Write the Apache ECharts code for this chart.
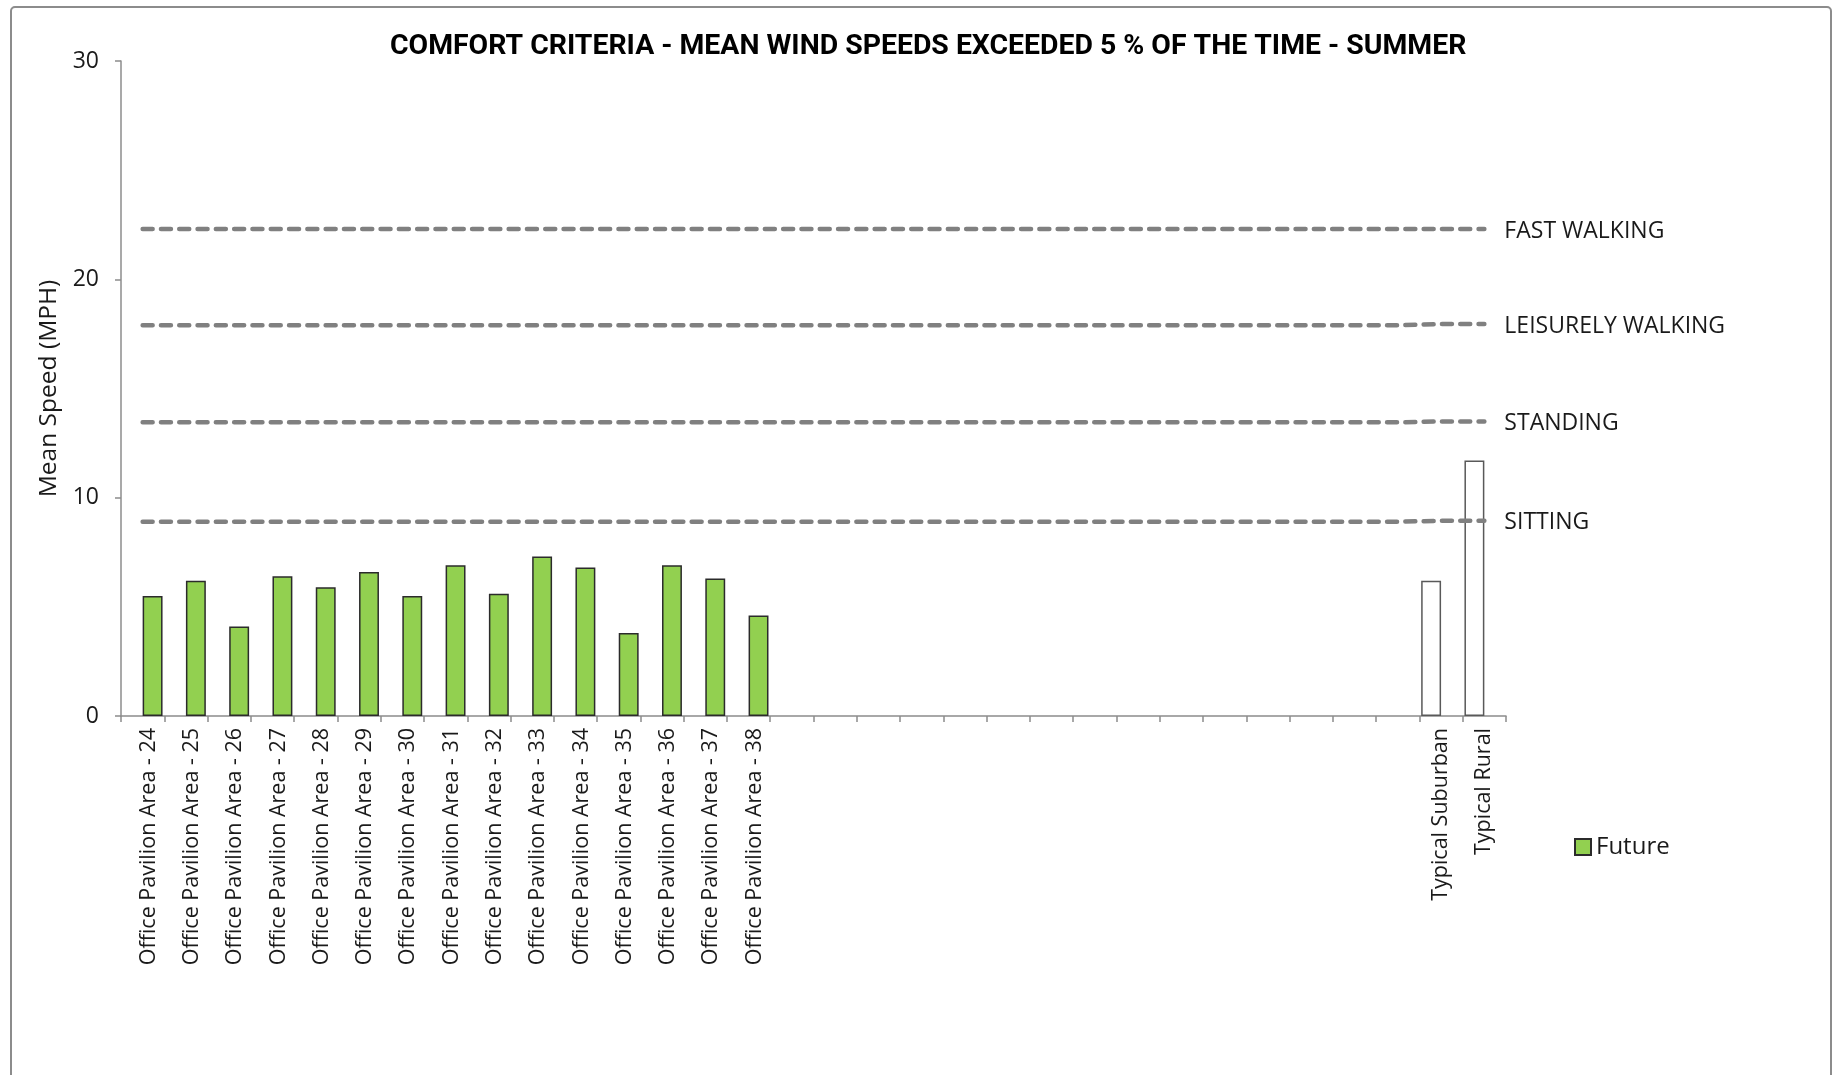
<!DOCTYPE html>
<html>
<head>
<meta charset="utf-8">
<script src="https://cdn.jsdelivr.net/npm/echarts@6/dist/echarts.min.js"></script>
<style>
  html, body { margin: 0; padding: 0; background: #fff; }
  #chart { width: 1837px; height: 1075px; }
</style>
</head>
<body>
<div id="chart"></div>
<script>
// categories: 15 measured areas, 15 unused slots, then the two reference sites
const categories = [
  "Office Pavilion Area - 24", "Office Pavilion Area - 25", "Office Pavilion Area - 26",
  "Office Pavilion Area - 27", "Office Pavilion Area - 28", "Office Pavilion Area - 29",
  "Office Pavilion Area - 30", "Office Pavilion Area - 31", "Office Pavilion Area - 32",
  "Office Pavilion Area - 33", "Office Pavilion Area - 34", "Office Pavilion Area - 35",
  "Office Pavilion Area - 36", "Office Pavilion Area - 37", "Office Pavilion Area - 38",
  "", "", "", "", "", "", "", "", "", "", "", "", "", "", "",
  "Typical Suburban", "Typical Rural"
];

const yTicks = [0, 10, 20, 30];

// Future (green bars)
const future = [
  5.5, 6.2, 4.1, 6.4, 5.9, 6.6, 5.5, 6.9, 5.6, 7.3, 6.8, 3.8, 6.9, 6.3, 4.6,
  null, null, null, null, null, null, null, null, null, null, null, null, null, null, null,
  null, null
];

// reference sites (white bars)
const typical = [
  null, null, null, null, null, null, null, null, null, null, null, null, null, null, null,
  null, null, null, null, null, null, null, null, null, null, null, null, null, null, null,
  6.2, 11.7
];

// comfort thresholds (dashed lines)
const fastWalking = [
  22.3, 22.3, 22.3, 22.3, 22.3, 22.3, 22.3, 22.3, 22.3, 22.3, 22.3, 22.3, 22.3, 22.3, 22.3, 22.3,
  22.3, 22.3, 22.3, 22.3, 22.3, 22.3, 22.3, 22.3, 22.3, 22.3, 22.3, 22.3, 22.3, 22.3, 22.3, 22.3
];
const leisurelyWalking = [
  17.9, 17.9, 17.9, 17.9, 17.9, 17.9, 17.9, 17.9, 17.9, 17.9, 17.9, 17.9, 17.9, 17.9, 17.9, 17.9,
  17.9, 17.9, 17.9, 17.9, 17.9, 17.9, 17.9, 17.9, 17.9, 17.9, 17.9, 17.9, 17.9, 17.9, 17.95, 17.95
];
const standing = [
  13.45, 13.45, 13.45, 13.45, 13.45, 13.45, 13.45, 13.45, 13.45, 13.45, 13.45, 13.45, 13.45, 13.45, 13.45, 13.45,
  13.45, 13.45, 13.45, 13.45, 13.45, 13.45, 13.45, 13.45, 13.45, 13.45, 13.45, 13.45, 13.45, 13.45, 13.49, 13.49
];
const sitting = [
  8.9, 8.9, 8.9, 8.9, 8.9, 8.9, 8.9, 8.9, 8.9, 8.9, 8.9, 8.9, 8.9, 8.9, 8.9, 8.9,
  8.9, 8.9, 8.9, 8.9, 8.9, 8.9, 8.9, 8.9, 8.9, 8.9, 8.9, 8.9, 8.9, 8.9, 8.94, 8.94
];

const textFont = "'Open Sans', 'DejaVu Sans', sans-serif";

// the two reference-site labels sit centred on their ticks
const axisData = categories.map(function (c) {
  if (c.indexOf("Typical") === 0) {
    return { value: c, textStyle: { verticalAlign: "middle", lineHeight: 24 } };
  }
  return c;
});

function thresholdLine(name, data) {
  return {
    name: name,
    type: "line",
    data: data,
    symbol: "none",
    silent: true,
    z: 3,
    lineStyle: {
      color: "#808080",
      width: 4.5,
      type: [10, 8.3],
      cap: "round",
    },
    endLabel: {
      show: true,
      formatter: "{a}",
      distance: 20,
      offset: [0, 2],
      color: "#1a1a1a",
      fontSize: 23,
      fontFamily: textFont,
    },
  };
}

let myChart = echarts.init(document.getElementById("chart"), null, { renderer: "canvas" });

let option = {
  animation: false,
  backgroundColor: "#fff",
  graphic: [
    {
      type: "rect",
      shape: { x: 11, y: 7, width: 1820, height: 1100, r: 4 },
      style: { fill: "none", stroke: "#8c8c8c", lineWidth: 2 },
      silent: true,
    },
  ],
  title: {
    text: "COMFORT CRITERIA - MEAN WIND SPEEDS EXCEEDED 5 % OF THE TIME - SUMMER",
    left: 385,
    top: 28,
    textStyle: {
      fontFamily: "Roboto, 'Open Sans', sans-serif",
      fontWeight: "bold",
      fontSize: 28.4,
      color: "#000",
    },
  },
  legend: {
    data: ["Future"],
    left: 1569,
    top: 830,
    itemWidth: 16,
    itemHeight: 16,
    itemGap: 8,
    icon: "rect",
    selectedMode: false,
    textStyle: {
      fontFamily: textFont,
      fontSize: 24,
      color: "#1a1a1a",
    },
  },
  grid: {
    left: 121,
    right: 331,
    top: 61,
    bottom: 359,
    containLabel: false,
  },
  xAxis: {
    type: "category",
    data: axisData,
    axisLine: { lineStyle: { color: "#8c8c8c", width: 1.5 } },
    axisTick: {
      show: true,
      interval: 0,
      length: 6,
      alignWithLabel: false,
      lineStyle: { color: "#8c8c8c", width: 1.5 },
    },
    axisLabel: {
      interval: 0,
      rotate: 90,
      margin: 12,
      verticalAlign: "top",
      lineHeight: 12,
      fontFamily: textFont,
      fontSize: 21.5,
      color: "#1a1a1a",
    },
  },
  yAxis: {
    type: "value",
    min: yTicks[0],
    max: yTicks[yTicks.length - 1],
    interval: 10,
    name: "Mean Speed (MPH)",
    nameLocation: "middle",
    nameGap: 56,
    nameTextStyle: {
      fontFamily: textFont,
      fontSize: 24.5,
      color: "#1a1a1a",
    },
    axisLine: { show: true, lineStyle: { color: "#8c8c8c", width: 1.5 } },
    axisTick: { show: true, length: 6, lineStyle: { color: "#8c8c8c", width: 1.5 } },
    splitLine: { show: false },
    axisLabel: {
      margin: 22,
      fontFamily: textFont,
      fontSize: 23,
      color: "#1a1a1a",
    },
  },
  series: [
    {
      name: "Typical",
      type: "bar",
      data: typical,
      barGap: "0%",
      barCategoryGap: "8%",
      silent: true,
      itemStyle: {
        color: "#ffffff",
        borderColor: "#595959",
        borderWidth: 1.5,
      },
    },
    {
      name: "Future",
      type: "bar",
      data: future,
      barGap: "0%",
      barCategoryGap: "8%",
      silent: true,
      itemStyle: {
        color: "#92D050",
        borderColor: "#2b2b2b",
        borderWidth: 1.5,
      },
    },
    thresholdLine("FAST WALKING", fastWalking),
    thresholdLine("LEISURELY WALKING", leisurelyWalking),
    thresholdLine("STANDING", standing),
    thresholdLine("SITTING", sitting),
  ],
};

myChart.setOption(option);
</script>
</body>
</html>
